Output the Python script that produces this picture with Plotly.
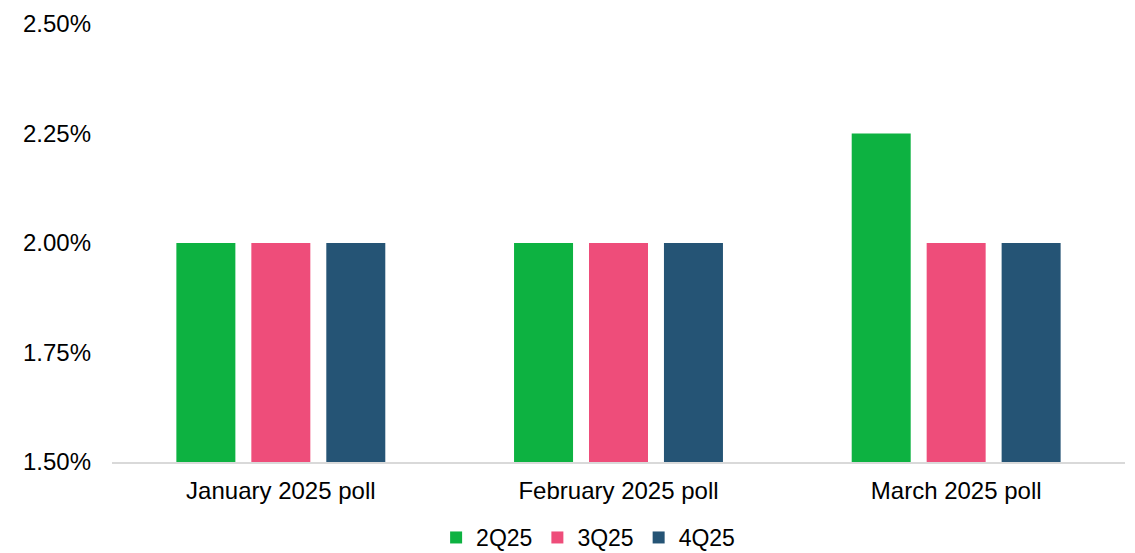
import plotly.graph_objects as go

# Poll rounds and forecast values (%) for each quarter
polls = ["January 2025 poll", "February 2025 poll", "March 2025 poll"]
q2_25 = [2.00, 2.00, 2.25]
q3_25 = [2.00, 2.00, 2.00]
q4_25 = [2.00, 2.00, 2.00]

series = [
    ("2Q25", q2_25, "#0DB241"),
    ("3Q25", q3_25, "#EE4D7A"),
    ("4Q25", q4_25, "#255475"),
]

fig = go.Figure()
for name, vals, color in series:
    fig.add_trace(go.Bar(
        x=polls, y=vals, name=name,
        marker=dict(color=color, line=dict(width=0)),
    ))

font_family = "Liberation Sans, Arial, sans-serif"

fig.update_layout(
    width=1135, height=553,
    margin=dict(l=112, r=10, t=18, b=91),
    paper_bgcolor="white", plot_bgcolor="white",
    barmode="group", bargap=0.334, bargroupgap=0.213,
    font=dict(family=font_family, size=24, color="#000000"),
    showlegend=True,
    legend=dict(
        orientation="h", x=0.47, xanchor="center",
        yref="container", y=0.028, yanchor="middle",
        font=dict(size=23), itemwidth=30, tracegroupgap=0,
        borderwidth=0, bgcolor="rgba(0,0,0,0)",
    ),
    xaxis=dict(
        showline=True, linecolor="#D9D9D9", linewidth=2,
        showgrid=False, ticks="", tickfont=dict(size=24),
        ticklabelstandoff=6,
    ),
    yaxis=dict(
        range=[1.5, 2.5], tickvals=[1.5, 1.75, 2.0, 2.25, 2.5],
        ticktext=["1.50%", "1.75%", "2.00%", "2.25%", "2.50%"],
        showgrid=False, zeroline=False, showline=False, ticks="",
        ticklabelstandoff=20, tickfont=dict(size=24),
    ),
)

fig.write_html("out.html")
